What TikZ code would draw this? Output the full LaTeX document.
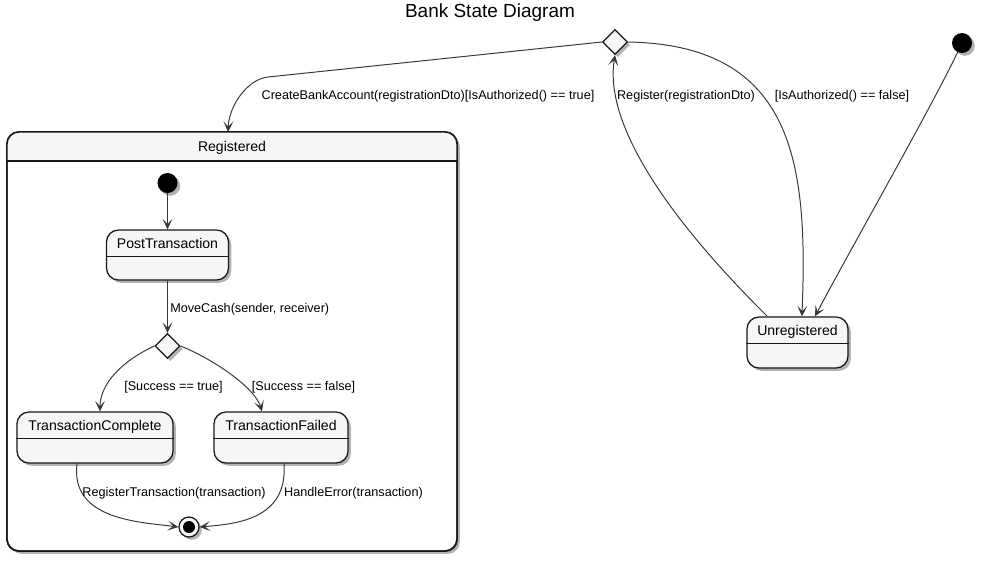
\documentclass[tikz,border=0pt]{standalone}
\usepackage{fontspec}
\setmainfont{Liberation Sans}
\usetikzlibrary{positioning, arrows.meta, shapes.geometric, shadows}

\definecolor{umlline}{HTML}{181818}
\definecolor{umledge}{HTML}{383838}
\definecolor{umlfill}{HTML}{F6F6F6}

\tikzset{
  umlshadow/.style={drop shadow={shadow xshift=2pt, shadow yshift=-2pt, opacity=.3, fill=black}},
  statebox/.style={draw=umlline, line width=0.9pt, fill=umlfill, rounded corners=0.3cm, umlshadow},
  choice/.style={diamond, draw=umlline, line width=0.9pt, fill=umlfill, minimum size=0.625cm, inner sep=0pt, umlshadow},
  initial/.style={circle, fill=black, minimum size=0.5cm, inner sep=0pt, umlshadow},
  final/.style={circle, draw=umlline, line width=0.9pt, fill=umlfill, minimum size=0.5cm, inner sep=0pt, umlshadow,
    path picture={\fill[black] (path picture bounding box.center) circle (0.15cm);}},
  trans/.style={draw=umledge, line width=0.7pt, -{Stealth[length=7.5pt, width=7pt, inset=3.8pt]}},
  lbl/.style={font=\fontsize{9}{11}\selectfont, text height=1.5ex, text depth=.25ex, inner sep=0pt},
  statename/.style={font=\fontsize{10}{12}\selectfont, text height=1.5ex, text depth=.25ex, inner sep=0pt}
}

\begin{document}
\begin{tikzpicture}[x=0.025cm, y=-0.025cm]
\useasboundingbox (0,0) rectangle (981,561);

\node[font=\fontsize{13.5}{15}\selectfont] (title) at (490,13) {Bank State Diagram};

\node[statebox, fill=white, outer sep=0pt, line width=1.1pt, minimum width=11.25cm, minimum height=10.475cm] (reg) at (232,341.5) {};
\fill[umlfill] ([yshift=-0.725cm]reg.north west) [rounded corners=0.3cm] -- (reg.north west) -- (reg.north east) [sharp corners] -- ([yshift=-0.725cm]reg.north east) -- cycle;
\draw[umlline, line width=1.1pt, rounded corners=0.3cm] (reg.north west) rectangle (reg.south east);
\draw[umlline, line width=0.9pt] ([yshift=-0.725cm]reg.north west) -- ([yshift=-0.725cm]reg.north east);
\node[statename] (reg-title) at ([yshift=-0.375cm]reg.north) {Registered};

\node[initial] (start) at (962,43) {};
\node[choice] (auth) at (615,42) {};
\node[statebox, minimum width=2.525cm, minimum height=1.275cm] (unreg) at (797.5,342.5) {};

\node[initial] (regstart) at (167.5,183) {};
\node[statebox, minimum width=3.05cm, minimum height=1.25cm] (post) at (167.5,255) {};
\node[choice] (success) at (167.5,346) {};
\node[statebox, minimum width=3.9cm, minimum height=1.275cm] (complete) at (95,437.5) {};
\node[statebox, minimum width=3.35cm, minimum height=1.275cm] (failed) at (281,437.5) {};
\node[final] (regend) at (189,527) {};

\foreach \n/\t in {unreg/Unregistered, post/PostTransaction, complete/TransactionComplete, failed/TransactionFailed} {
  \node[statename] (\n-title) at ([yshift=-0.35cm]\n.north) {\t};
  \draw[umlline, line width=0.9pt] ([yshift=-0.675cm]\n.north west) -- ([yshift=-0.675cm]\n.north east);
}

\draw[trans] (start) .. controls (930,110) and (850,250) .. ([xshift=0.4375cm]unreg.north);
\draw[trans] (auth.west) -- (268,77) .. controls (248,79) and (229,105) .. ([xshift=-0.1cm]reg.north);
\draw[trans] ([xshift=0.525cm]unreg.north west) .. controls (680,230) and (603,130) .. (auth.south);
\draw[trans] (auth.east) .. controls (795,45) and (808,165) .. ([xshift=0.11cm]unreg.north);
\draw[trans] (regstart) -- (post);
\draw[trans] (post) -- (success);
\draw[trans] (success.west) .. controls (120,362) and (100,385) .. ([xshift=0.125cm]complete.north);
\draw[trans] (success.east) .. controls (215,360) and (255,388) .. ([xshift=-0.475cm]failed.north);
\draw[trans] ([xshift=-0.45cm]complete.south) .. controls (70,520) and (140,522) .. (regend.west);
\draw[trans] ([xshift=0.075cm]failed.south) .. controls (288,520) and (235,524) .. (regend.east);

\node[lbl] (create-lbl) at (428,95) {CreateBankAccount(registrationDto)[IsAuthorized() == true]};
\node[lbl] (register-lbl) at (686,95) {Register(registrationDto)};
\node[lbl] (denied-lbl) at (842,95) {[IsAuthorized() == false]};
\node[lbl, anchor=west] (move-lbl) at (170,308) {MoveCash(sender, receiver)};
\node[lbl] (true-lbl) at (173.5,386) {[Success == true]};
\node[lbl] (false-lbl) at (303.5,386) {[Success == false]};
\node[lbl] (record-lbl) at (174,492) {RegisterTransaction(transaction)};
\node[lbl] (error-lbl) at (353.5,492) {HandleError(transaction)};
\end{tikzpicture}
\end{document}
